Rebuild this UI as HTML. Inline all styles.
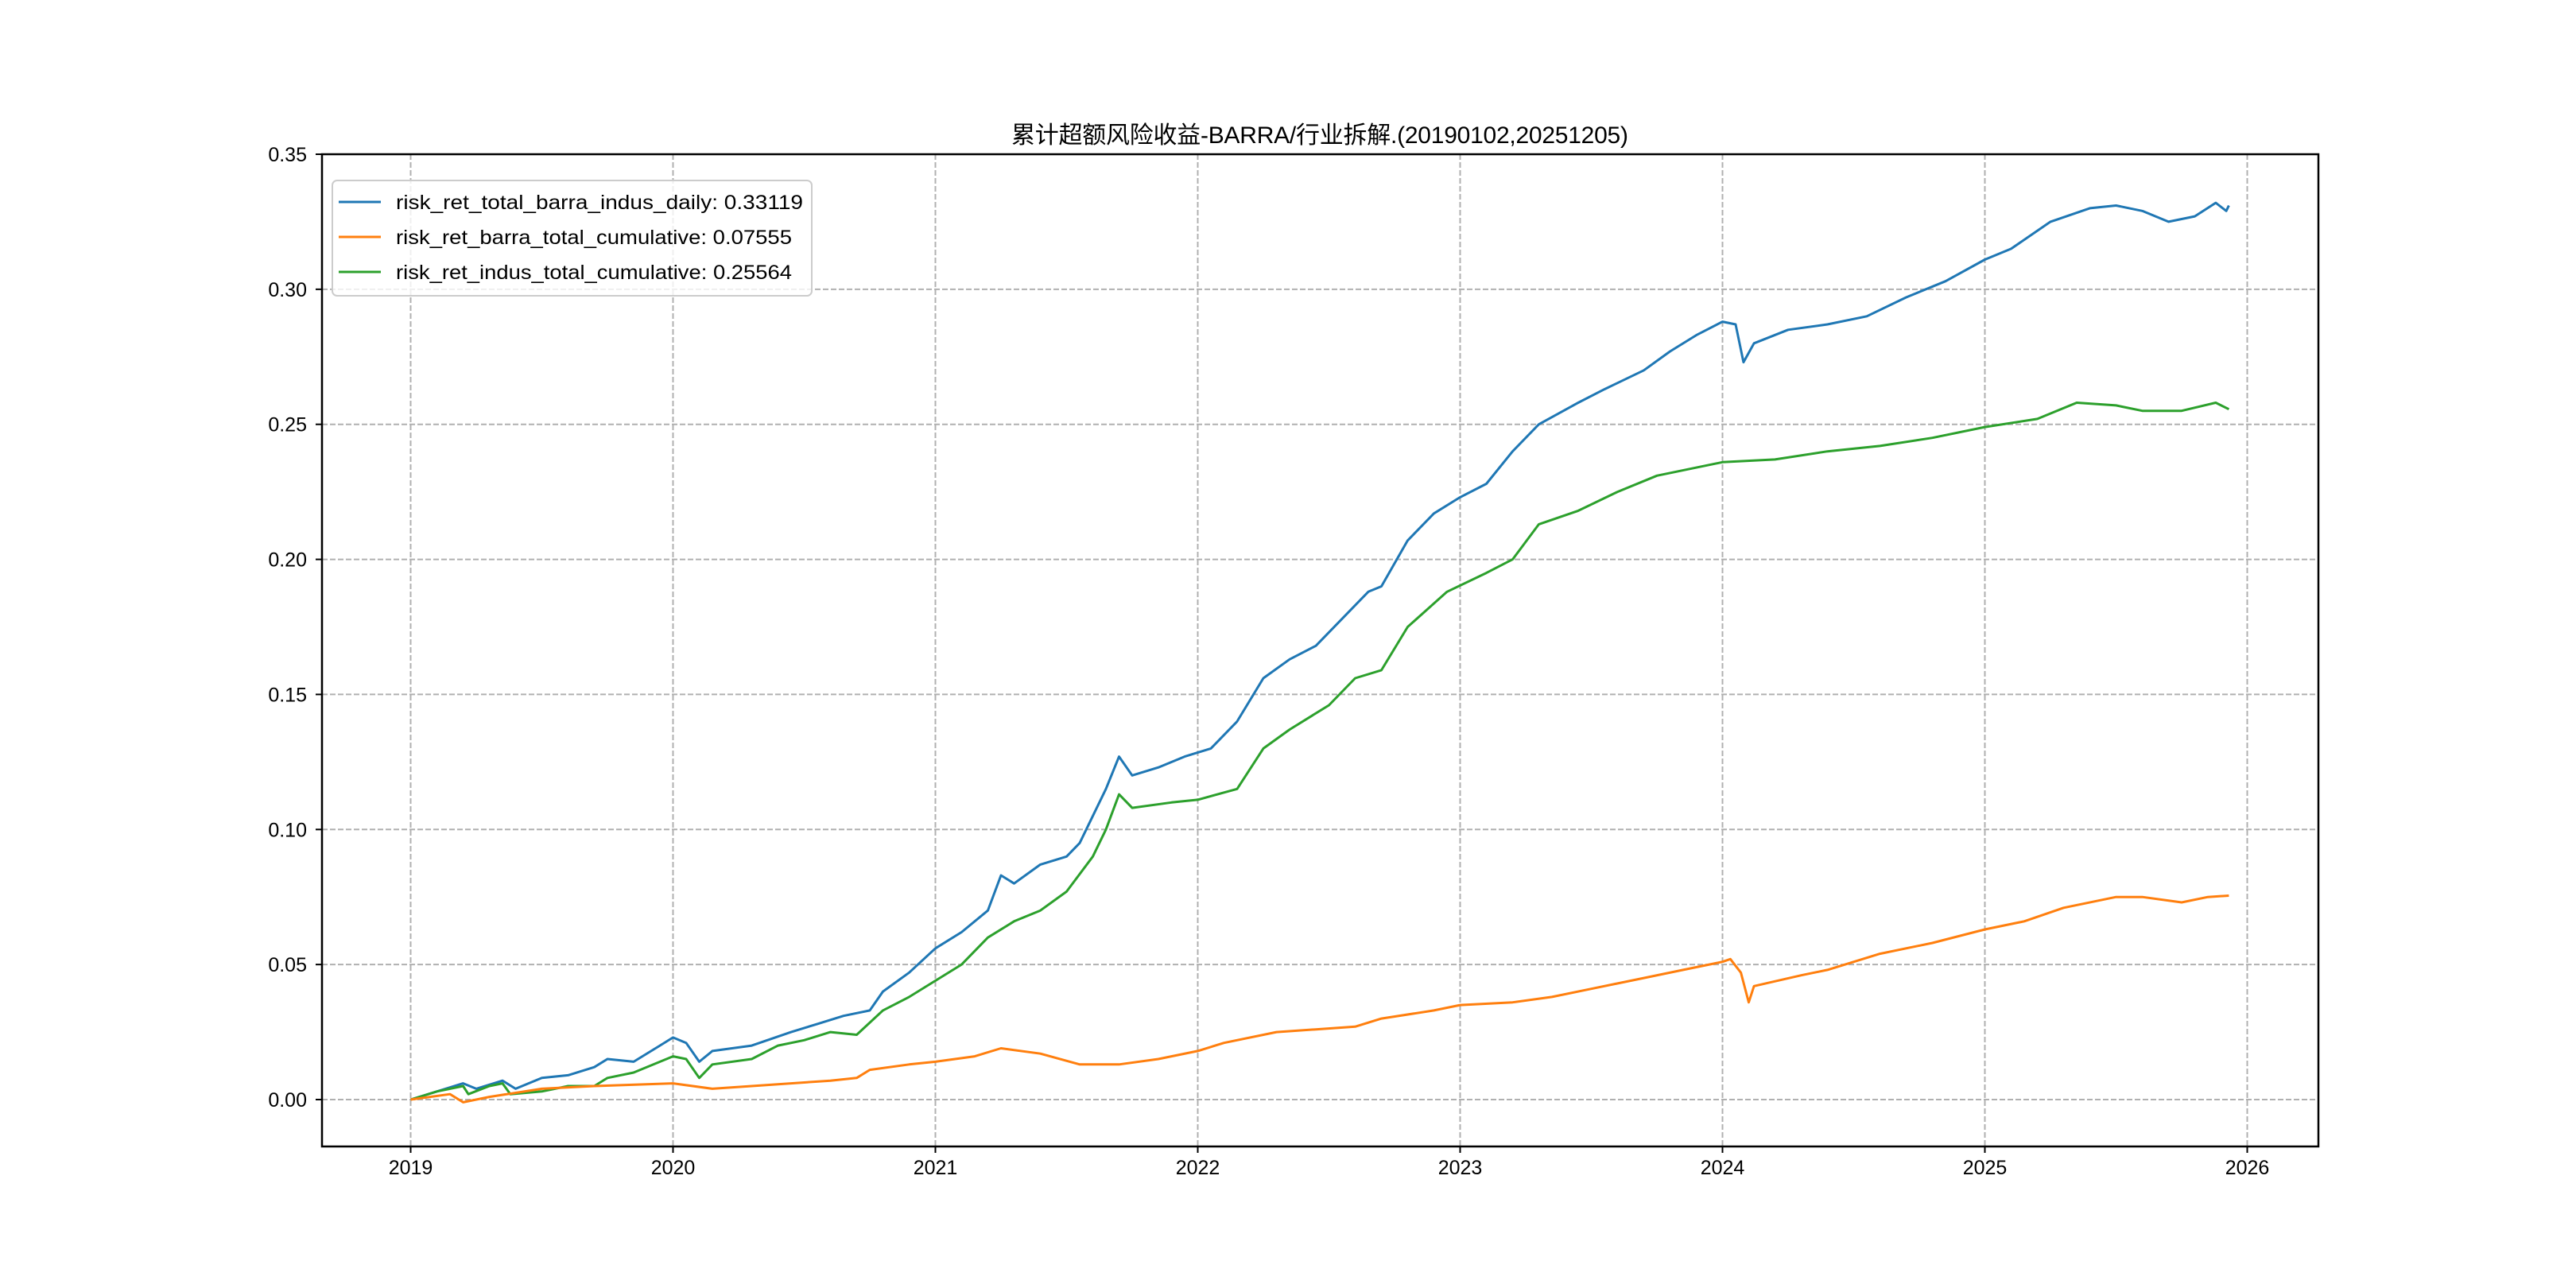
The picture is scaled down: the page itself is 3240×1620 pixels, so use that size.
<!DOCTYPE html>
<html><head><meta charset="utf-8"><style>
html,body{margin:0;padding:0;background:#fff}
svg{display:block}
text{font-family:"Liberation Sans","Noto Sans CJK SC",sans-serif;fill:#000}
</style></head><body>
<svg id="chart" width="3240" height="1620" viewBox="0 0 3240 1620" xmlns="http://www.w3.org/2000/svg">
<rect width="3240" height="1620" fill="#fff"/>
<text x="1660" y="180" text-anchor="middle" font-size="30" textLength="776">累计超额风险收益-BARRA/行业拆解.(20190102,20251205)</text>
<g id="grid"></g>
<g id="series"></g>
<rect x="405" y="194" width="2511" height="1248" fill="none" stroke="#000" stroke-width="2.5"/>
<g id="ticks"></g>
<g id="legend">
<rect x="418" y="227" width="603" height="145" rx="6" fill="#fff" fill-opacity="0.8" stroke="#ccc" stroke-width="2"/>
</g>
</svg>
<script>
const yTicks=[0,0.05,0.10,0.15,0.20,0.25,0.30,0.35];
const yTickLabels=["0.00","0.05","0.10","0.15","0.20","0.25","0.30","0.35"];
const xTicks=[2019,2020,2021,2022,2023,2024,2025,2026];
const xTickLabels=["2019","2020","2021","2022","2023","2024","2025","2026"];
const seriesNames=["risk_ret_total_barra_indus_daily: 0.33119","risk_ret_barra_total_cumulative: 0.07555","risk_ret_indus_total_cumulative: 0.25564"];
const seriesColors=["#1f77b4","#ff7f0e","#2ca02c"];
const totalX=[2019,2019.1,2019.2,2019.25,2019.35,2019.4,2019.5,2019.6,2019.7,2019.75,2019.85,2019.95,2020,2020.05,2020.1,2020.15,2020.3,2020.45,2020.55,2020.65,2020.75,2020.8,2020.9,2021,2021.1,2021.2,2021.25,2021.3,2021.4,2021.5,2021.55,2021.6,2021.65,2021.7,2021.75,2021.85,2021.95,2022.05,2022.15,2022.25,2022.35,2022.45,2022.55,2022.65,2022.7,2022.8,2022.9,2023,2023.1,2023.2,2023.3,2023.45,2023.55,2023.7,2023.8,2023.9,2024,2024.05,2024.08,2024.12,2024.25,2024.4,2024.55,2024.7,2024.85,2025,2025.1,2025.25,2025.4,2025.5,2025.6,2025.7,2025.8,2025.88,2025.92,2025.93];
const totalY=[0,0.003,0.006,0.004,0.007,0.004,0.008,0.009,0.012,0.015,0.014,0.02,0.023,0.021,0.014,0.018,0.02,0.025,0.028,0.031,0.033,0.04,0.047,0.056,0.062,0.07,0.083,0.08,0.087,0.09,0.095,0.105,0.115,0.127,0.12,0.123,0.127,0.13,0.14,0.156,0.163,0.168,0.178,0.188,0.19,0.207,0.217,0.223,0.228,0.24,0.25,0.258,0.263,0.27,0.277,0.283,0.288,0.287,0.273,0.28,0.285,0.287,0.29,0.297,0.303,0.311,0.315,0.325,0.33,0.331,0.329,0.325,0.327,0.332,0.329,0.331];
const barraX=[2019,2019.15,2019.2,2019.3,2019.5,2019.7,2020,2020.15,2020.3,2020.6,2020.7,2020.75,2020.9,2021,2021.15,2021.25,2021.4,2021.55,2021.7,2021.85,2022,2022.1,2022.3,2022.45,2022.6,2022.7,2022.9,2023,2023.2,2023.35,2023.5,2023.7,2023.85,2024,2024.03,2024.07,2024.1,2024.12,2024.3,2024.4,2024.6,2024.8,2025,2025.15,2025.3,2025.5,2025.6,2025.75,2025.85,2025.93];
const barraY=[0,0.002,-0.001,0.001,0.004,0.005,0.006,0.004,0.005,0.007,0.008,0.011,0.013,0.014,0.016,0.019,0.017,0.013,0.013,0.015,0.018,0.021,0.025,0.026,0.027,0.03,0.033,0.035,0.036,0.038,0.041,0.045,0.048,0.051,0.052,0.047,0.036,0.042,0.046,0.048,0.054,0.058,0.063,0.066,0.071,0.075,0.075,0.073,0.075,0.0755];
const indusX=[2019,2019.1,2019.2,2019.22,2019.3,2019.35,2019.38,2019.5,2019.6,2019.7,2019.75,2019.85,2020,2020.05,2020.1,2020.15,2020.3,2020.4,2020.5,2020.6,2020.7,2020.8,2020.9,2021,2021.1,2021.2,2021.3,2021.4,2021.5,2021.6,2021.65,2021.7,2021.75,2021.9,2022,2022.15,2022.25,2022.35,2022.5,2022.6,2022.7,2022.8,2022.95,2023.1,2023.2,2023.3,2023.45,2023.6,2023.75,2024,2024.2,2024.4,2024.6,2024.8,2025,2025.2,2025.35,2025.5,2025.6,2025.75,2025.88,2025.93];
const indusY=[0,0.003,0.005,0.002,0.005,0.006,0.002,0.003,0.005,0.005,0.008,0.01,0.016,0.015,0.008,0.013,0.015,0.02,0.022,0.025,0.024,0.033,0.038,0.044,0.05,0.06,0.066,0.07,0.077,0.09,0.1,0.113,0.108,0.11,0.111,0.115,0.13,0.137,0.146,0.156,0.159,0.175,0.188,0.195,0.2,0.213,0.218,0.225,0.231,0.236,0.237,0.24,0.242,0.245,0.249,0.252,0.258,0.257,0.255,0.255,0.258,0.2556];

const NS="http://www.w3.org/2000/svg";
const L=405,R=2916,T=194,B=1442;
function xs(v){return 516.5+(v-2019)*330;}
function ys(v){return 1383-v*(1189/0.35);}
function mk(tag,attrs,parent){const e=document.createElementNS(NS,tag);for(const k in attrs)e.setAttribute(k,attrs[k]);parent.appendChild(e);return e;}
const grid=document.getElementById('grid'),ticks=document.getElementById('ticks'),ser=document.getElementById('series'),leg=document.getElementById('legend');
yTicks.forEach((v,i)=>{
  const y=ys(v);
  const g=mk('line',{x1:L,x2:R,y1:y,y2:y,stroke:'#b0b0b0','stroke-width':2,'stroke-dasharray':'7,3'},grid);
  
  
  const t=mk('line',{x1:L-8,x2:L,y1:y,y2:y,stroke:'#000','stroke-width':2},ticks);
  
  
  const tx=mk('text',{x:L-19,y:y+9,'text-anchor':'end','font-size':25},ticks);
  tx.textContent=yTickLabels[i];
  
  
});
xTicks.forEach((v,i)=>{
  const x=xs(v);
  const g=mk('line',{x1:x,x2:x,y1:T,y2:B,stroke:'#b0b0b0','stroke-width':2,'stroke-dasharray':'7,3'},grid);
  
  
  const t=mk('line',{x1:x,x2:x,y1:B,y2:B+8,stroke:'#000','stroke-width':2},ticks);
  
  
  const tx=mk('text',{x:x,y:B+35,'text-anchor':'middle','font-size':25},ticks);
  tx.textContent=xTickLabels[i];
  
  
});
const allX=[totalX,barraX,indusX],allY=[totalY,barraY,indusY];
const lineNames=['total-return-line','barra-return-line','industry-return-line'];
[0,2,1].forEach(k=>{
  const d=allX[k].map((v,i)=>(i?'L':'M')+xs(v).toFixed(1)+','+ys(allY[k][i]).toFixed(1)).join(' ');
  const p=mk('path',{d:d,fill:'none',stroke:seriesColors[k],'stroke-width':3,'stroke-linejoin':'round'},ser);
  
  
});
const lens=[512,498,498];
seriesNames.forEach((n,i)=>{
  const y=254+i*44;
  const l=mk('line',{x1:426,x2:479,y1:y,y2:y,stroke:seriesColors[i],'stroke-width':3},leg);
  
  
  const t=mk('text',{x:498,y:y+9,'font-size':25,textLength:lens[i],lengthAdjust:'spacingAndGlyphs'},leg);
  t.textContent=n;
  
  
});
</script>
</body></html>
